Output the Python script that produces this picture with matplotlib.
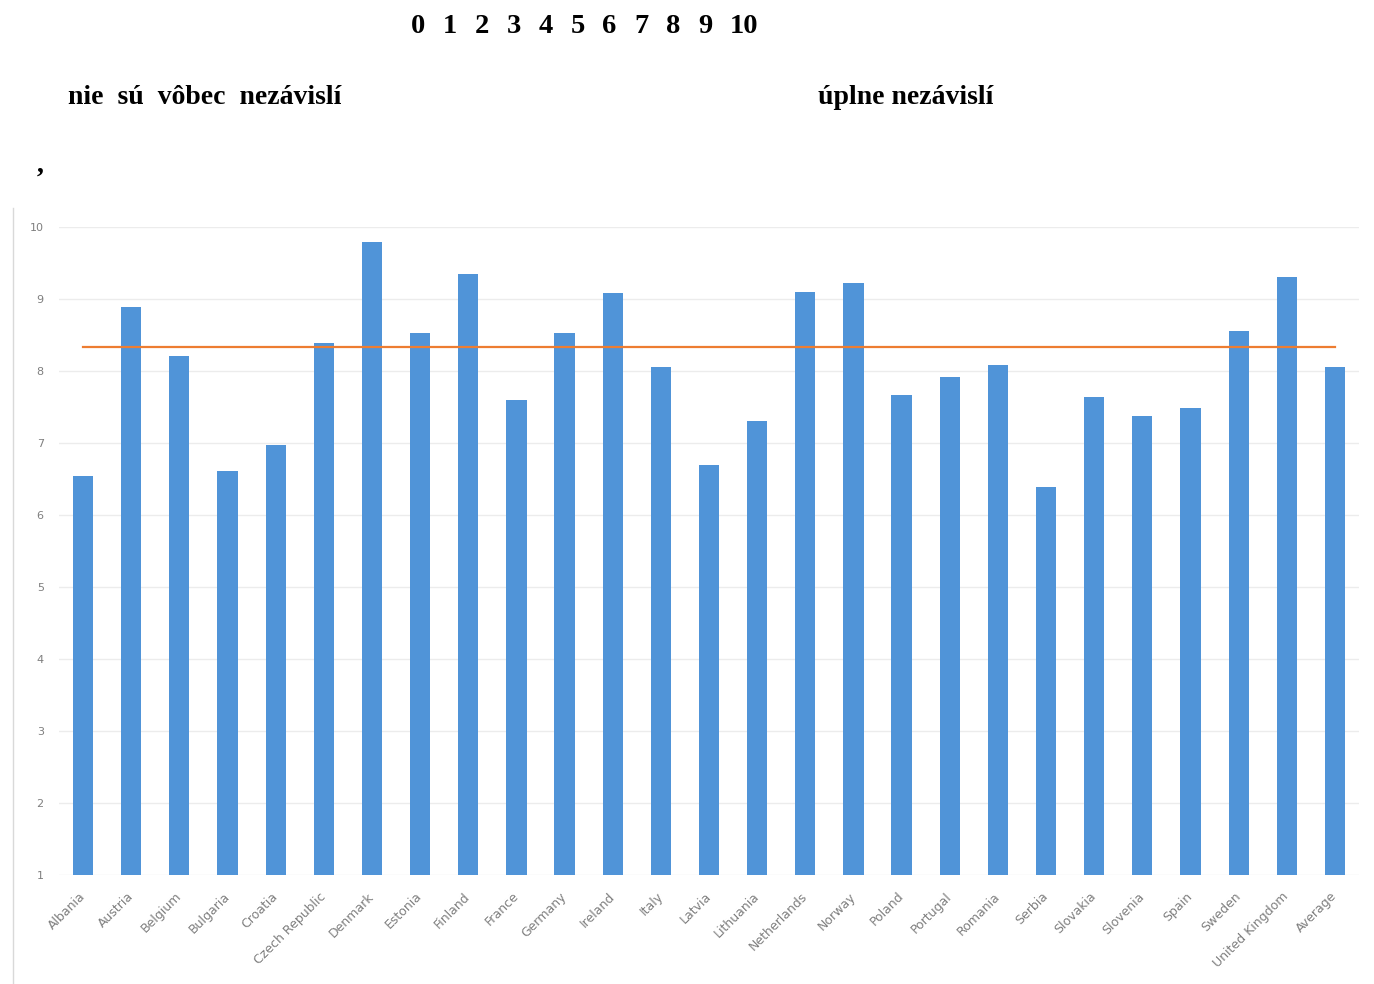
import numpy as np
import matplotlib
matplotlib.use('Agg')
import matplotlib.pyplot as plt
from matplotlib.lines import Line2D

countries = ['Albania', 'Austria', 'Belgium', 'Bulgaria', 'Croatia', 'Czech Republic',
             'Denmark', 'Estonia', 'Finland', 'France', 'Germany', 'Ireland', 'Italy',
             'Latvia', 'Lithuania', 'Netherlands', 'Norway', 'Poland', 'Portugal',
             'Romania', 'Serbia', 'Slovakia', 'Slovenia', 'Spain', 'Sweden',
             'United Kingdom', 'Average']
scores = [6.54, 8.89, 8.21, 6.61, 6.97, 8.39, 9.79, 8.53, 9.35, 7.60, 8.53, 9.08,
          8.06, 6.69, 7.31, 9.10, 9.22, 7.66, 7.92, 8.08, 6.39, 7.64, 7.37, 7.49,
          8.56, 9.31, 8.05]
mean_line = 8.33
scale_labels = ['0', '1', '2', '3', '4', '5', '6', '7', '8', '9', '10']

W, H = 1374, 984
fig = plt.figure(figsize=(W / 100, H / 100), dpi=100)

def fx(px):
    return px / W

def fy(py):
    return 1 - py / H

# scanned document text above the chart
serif = ['Liberation Serif', 'DejaVu Serif']
for i, lab in enumerate(scale_labels):
    fig.text(fx(411 + i * 31.9), fy(33), lab, family=serif, weight='bold',
             fontsize=20.5, va='baseline', ha='left')
fig.text(fx(68), fy(104), 'nie  sú  vôbec  nezávislí', family=serif, weight='bold',
         fontsize=20, va='baseline', ha='left')
fig.text(fx(818), fy(104), 'úplne nezávislí', family=serif, weight='bold',
         fontsize=20, va='baseline', ha='left')
fig.text(fx(37), fy(172), ',', family=serif, weight='bold', fontsize=20,
         va='baseline', ha='left')

# chart frame edge
fig.add_artist(Line2D([fx(13), fx(13)], [fy(208), 0], color='#d9d9d9', lw=1))

ax = fig.add_axes([fx(59), fy(875), fx(1300), 648 / H])
x = np.arange(len(countries))
ax.bar(x, scores, width=0.42, color='#5094d8', zorder=2)
ax.plot(x, [mean_line] * len(x), color='#ED7D31', lw=1.6, zorder=3)

ax.set_xlim(-0.5, len(countries) - 0.5)
ax.set_ylim(1, 10)
ax.set_yticks(range(1, 11))
ax.grid(axis='y', color='#ececec', lw=1, zorder=0)
for s in ax.spines.values():
    s.set_visible(False)
ax.tick_params(axis='both', length=0, colors='#7f7f7f', labelsize=8)
ax.tick_params(axis='y', pad=11)
ax.set_xticks(x)
ax.set_xticklabels(countries, rotation=45, ha='right', va='center',
                   rotation_mode='anchor', fontsize=9, color='#7f7f7f')
ax.tick_params(axis='x', pad=14)

fig.savefig('out.png', dpi=100)
